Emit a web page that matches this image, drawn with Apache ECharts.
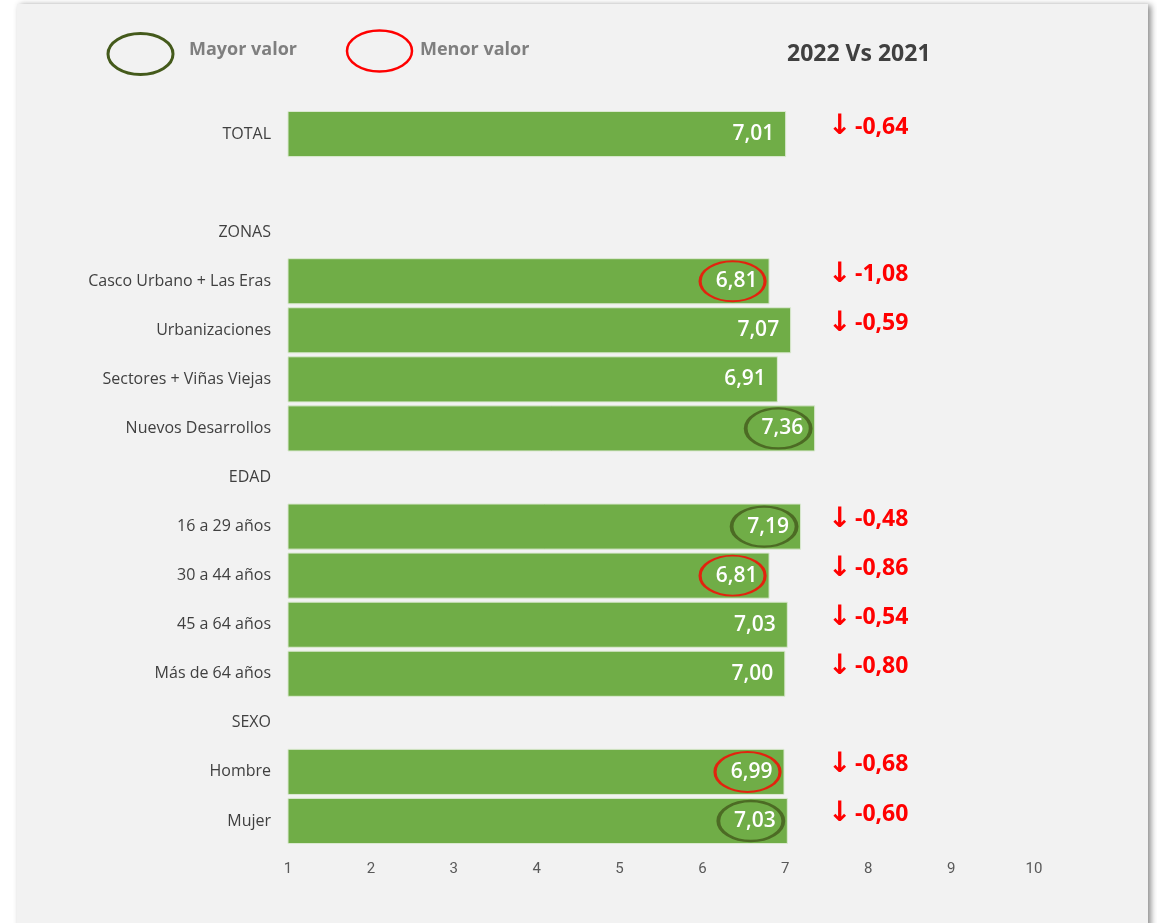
<!DOCTYPE html>
<html>
<head>
<meta charset="utf-8">
<script src="https://cdn.jsdelivr.net/npm/echarts@6/dist/echarts.min.js"></script>
<style>html,body{margin:0;padding:0;background:#fff}#c{width:1157px;height:923px}</style>
</head>
<body>
<div id="c"></div>
<script>
// ---- data ----
const categories = ['TOTAL', '', 'ZONAS', 'Casco Urbano + Las Eras', 'Urbanizaciones', 'Sectores + Viñas Viejas', 'Nuevos Desarrollos', 'EDAD', '16 a 29 años', '30 a 44 años', '45 a 64 años', 'Más de 64 años', 'SEXO', 'Hombre', 'Mujer'];
const values = [7.01, null, null, 6.81, 7.07, 6.91, 7.36, null, 7.19, 6.81, 7.03, 7.00, null, 6.99, 7.03];
const changes = ['-0,64', '', '', '-1,08', '-0,59', '', '', '', '-0,48', '-0,86', '-0,54', '-0,80', '', '-0,68', '-0,60'];
const mayorCats = ['Nuevos Desarrollos', '16 a 29 años', 'Mujer'];
const menorCats = ['Casco Urbano + Las Eras', '30 a 44 años', 'Hombre'];
const legendNames = ['Mayor valor', 'Menor valor'];
const xTicks = [1, 2, 3, 4, 5, 6, 7, 8, 9, 10];

const MAYOR_COLOR = '#445a1b';
const MENOR_COLOR = '#ff0000';
const fmt = v => v.toFixed(2).replace('.', ',');
const markData = cats => cats.map(c => [values[categories.indexOf(c)], c]);

const chart = echarts.init(document.getElementById('c'));
const ellipseBase = {
  type: 'scatter',
  symbol: 'circle',
  symbolSize: [65, 40],
  symbolOffset: [-37, 0],
  silent: true,
  z: 5
};
const legendText = { fontFamily: 'Open Sans', fontWeight: 'bold', fontSize: 18, fill: '#7f7f7f', verticalAlign: 'middle' };
chart.setOption({
  backgroundColor: '#ffffff',
  animation: false,
  graphic: [{
    type: 'rect', z: -100, silent: true,
    shape: { x: 17, y: 4, width: 1131, height: 930 },
    style: { fill: '#f2f2f2', shadowBlur: 6, shadowColor: 'rgba(0,0,0,0.45)', shadowOffsetX: 3, shadowOffsetY: 1 }
  }, {
    type: 'ellipse', silent: true,
    shape: { cx: 140.5, cy: 54, rx: 32.5, ry: 20.5 },
    style: { fill: 'none', stroke: MAYOR_COLOR, lineWidth: 3 }
  }, {
    type: 'text', silent: true, x: 189, y: 50,
    style: Object.assign({ text: legendNames[0] }, legendText)
  }, {
    type: 'ellipse', silent: true,
    shape: { cx: 379.5, cy: 51, rx: 32.5, ry: 20.5 },
    style: { fill: 'none', stroke: MENOR_COLOR, lineWidth: 2.5 }
  }, {
    type: 'text', silent: true, x: 420, y: 50,
    style: Object.assign({ text: legendNames[1] }, legendText)
  }],
  title: {
    text: '2022 Vs 2021',
    left: 782, top: 38,
    textStyle: { fontFamily: 'Open Sans', fontWeight: 'bold', fontSize: 23, color: '#404040' }
  },
  grid: { left: 288, right: 123, top: 109.5, bottom: 77.5, containLabel: false },
  xAxis: {
    type: 'value', min: 1, max: 10, interval: 1,
    splitLine: { show: false }, axisLine: { show: false }, axisTick: { show: false },
    axisLabel: {
      margin: 16, color: '#595959', fontSize: 15, fontFamily: 'Liberation Sans Narrow, Roboto',
      formatter: v => xTicks.includes(v) ? String(v) : ''
    }
  },
  yAxis: [{
    type: 'category', inverse: true, data: categories,
    axisLine: { show: false }, axisTick: { show: false },
    axisLabel: { margin: 17, color: '#404040', fontSize: 16, fontFamily: 'Open Sans' }
  }, {
    type: 'category', inverse: true, data: categories,
    position: 'right', offset: -206,
    axisLine: { show: false }, axisTick: { show: false },
    axisLabel: {
      margin: 0, align: 'left', padding: [0, 0, 14, 0],
      formatter: (v, i) => changes[i] ? '{a|↓}{b|' + changes[i] + '}' : '',
      rich: {
        a: { fontFamily: 'DejaVu Sans', fontSize: 28, color: '#ff0000', fontWeight: 'bold', width: 27 },
        b: { fontFamily: 'Open Sans', fontSize: 23, color: '#ff0000', fontWeight: 'bold' }
      }
    }
  }],
  series: [{
    type: 'bar',
    data: values,
    barCategoryGap: '6%',
    itemStyle: { color: '#70ad47', borderColor: '#dbe9d1', borderWidth: 1 },
    label: {
      show: true, position: 'insideRight', distance: 12,
      color: '#ffffff', fontFamily: 'Open Sans', fontWeight: 600, fontSize: 21,
      formatter: p => p.value == null ? '' : fmt(p.value)
    }
  },
  Object.assign({}, ellipseBase, {
    name: legendNames[0],
    data: markData(mayorCats),
    itemStyle: { color: 'transparent', borderColor: MAYOR_COLOR, borderWidth: 3 }
  }),
  Object.assign({}, ellipseBase, {
    name: legendNames[1],
    data: markData(menorCats),
    itemStyle: { color: 'transparent', borderColor: MENOR_COLOR, borderWidth: 2.5 }
  })]
});
</script>
</body>
</html>
